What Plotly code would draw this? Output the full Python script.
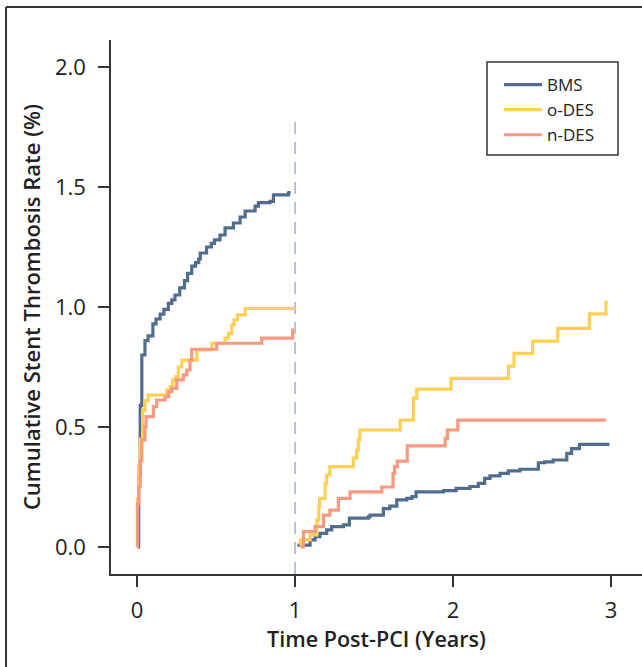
import plotly.graph_objects as go

# ---- data (step functions: value starts at time t) ----
bms_y1_t = [0, 0.01, 0.02, 0.03, 0.05, 0.07, 0.10, 0.12, 0.146, 0.17, 0.198, 0.22, 0.24, 0.27, 0.30, 0.32,
            0.346, 0.37, 0.39, 0.40, 0.44, 0.47, 0.49, 0.525, 0.557, 0.61, 0.652, 0.684, 0.747, 0.768,
            0.842, 0.863, 0.958, 0.962]
bms_y1_v = [0, 0.30, 0.59, 0.80, 0.86, 0.88, 0.93, 0.95, 0.97, 0.99, 1.015, 1.03, 1.05, 1.08, 1.11, 1.14,
            1.17, 1.185, 1.20, 1.225, 1.25, 1.265, 1.28, 1.30, 1.33, 1.35, 1.375, 1.40, 1.42, 1.435,
            1.44, 1.467, 1.474, 1.483]

odes_y1_t = [0, 0.002, 0.010, 0.020, 0.035, 0.05, 0.07, 0.188, 0.21, 0.225, 0.245, 0.261, 0.283, 0.378,
             0.473, 0.557, 0.578, 0.599, 0.614, 0.635, 0.684, 1.0]
odes_y1_v = [0, 0.20, 0.34, 0.45, 0.57, 0.61, 0.633, 0.654, 0.668, 0.696, 0.71, 0.75, 0.779, 0.821,
             0.849, 0.87, 0.89, 0.925, 0.946, 0.967, 0.994, 0.994]

ndes_y1_t = [0, 0.003, 0.01, 0.02, 0.03, 0.05, 0.057, 0.103, 0.124, 0.177, 0.20, 0.22, 0.251, 0.293,
             0.314, 0.335, 0.346, 0.504, 0.789, 0.985]
ndes_y1_v = [0, 0.18, 0.25, 0.36, 0.446, 0.50, 0.543, 0.585, 0.6125, 0.626, 0.647, 0.661, 0.696, 0.717,
             0.7375, 0.779, 0.824, 0.849, 0.87, 0.91]

bms_y2_t = [1.015, 1.095, 1.127, 1.158, 1.20, 1.232, 1.306, 1.344, 1.464, 1.475, 1.559, 1.60, 1.644,
            1.707, 1.74, 1.766, 1.94, 2.02, 2.107, 2.16, 2.20, 2.234, 2.297, 2.35, 2.424, 2.54, 2.58,
            2.634, 2.72, 2.75, 2.80, 2.99]
bms_y2_v = [0.008, 0.03, 0.043, 0.057, 0.071, 0.085, 0.092, 0.12, 0.126, 0.133, 0.16, 0.17, 0.196,
            0.203, 0.21, 0.23, 0.235, 0.244, 0.252, 0.265, 0.286, 0.296, 0.307, 0.317, 0.324, 0.351, 0.355,
            0.3625, 0.39, 0.41, 0.428, 0.428]

odes_y2_t = [1.03, 1.035, 1.095, 1.137, 1.15, 1.155, 1.19, 1.20, 1.22, 1.369, 1.39, 1.40, 1.41, 1.665,
             1.749, 1.77, 1.987, 2.35, 2.386, 2.504, 2.663, 2.863, 2.968]
odes_y2_v = [0.008, 0.03, 0.05, 0.1125, 0.168, 0.203, 0.265, 0.30, 0.335, 0.37, 0.404, 0.446, 0.4875, 0.529,
             0.62, 0.658, 0.703, 0.754, 0.807, 0.858, 0.911, 0.971, 1.026]

ndes_y2_t = [1.036, 1.053, 1.127, 1.18, 1.22, 1.274, 1.348, 1.549, 1.62, 1.63, 1.647, 1.71, 1.95, 1.964,
             2.03, 2.968]
ndes_y2_v = [0.0, 0.064, 0.085, 0.133, 0.154, 0.203, 0.23, 0.25, 0.307, 0.335, 0.358, 0.421, 0.453, 0.4875,
             0.529, 0.529]

series = [
    ("BMS", "#516d8e", bms_y1_t, bms_y1_v, bms_y2_t, bms_y2_v),
    ("o-DES", "#ffd055", odes_y1_t, odes_y1_v, odes_y2_t, odes_y2_v),
    ("n-DES", "#f89a82", ndes_y1_t, ndes_y1_v, ndes_y2_t, ndes_y2_v),
]

x_ticks = [0, 1, 2, 3]
y_ticks = [0.0, 0.5, 1.0, 1.5, 2.0]

FONT = "Open Sans"
TXT = "#222222"
fig = go.Figure()
for name, color, t1, v1, t2, v2 in series:
    fig.add_trace(go.Scatter(
        x=list(t1) + [None] + list(t2),
        y=list(v1) + [None] + list(v2),
        mode="lines", name=name, line=dict(color=color, width=3.2, shape="hv"),
        connectgaps=False,
    ))

fig.add_shape(type="line", xref="x", yref="paper", x0=1, x1=1, y0=0, y1=0.86,
              line=dict(color="#a3b8d8", width=1.6, dash="12px,8px"), layer="below")

# outer frame
fig.add_shape(type="line", xref="paper", yref="paper", x0=-0.1977, x1=-0.1977, y0=-0.3, y1=1.0618,
              line=dict(color="#333333", width=2))
fig.add_shape(type="line", xref="paper", yref="paper", x0=-0.1977, x1=1.1, y0=1.0618, y1=1.0618,
              line=dict(color="#333333", width=2))
# legend frame
fig.add_shape(type="rect", xref="paper", yref="paper", x0=(487 - 111) / 531, x1=(618 - 111) / 531,
              y0=(574 - 155) / 534, y1=(574 - 62) / 534,
              line=dict(color="#333333", width=1.5), fillcolor="rgba(0,0,0,0)")

fig.update_layout(
    width=642, height=667,
    margin=dict(l=111, r=0, t=40, b=93),
    paper_bgcolor="white", plot_bgcolor="white",
    font=dict(family=FONT, color=TXT, size=18),
    showlegend=True,
    legend=dict(x=(499 - 111) / 531, y=(574 - 67) / 534, xanchor="left", yanchor="top",
                borderwidth=0, bgcolor="rgba(0,0,0,0)",
                font=dict(size=17, family=FONT, color=TXT),
                itemwidth=38),
    xaxis=dict(range=[-0.165, 3.196], tickmode="array", tickvals=x_ticks,
               ticktext=[str(v) for v in x_ticks],
               showgrid=False, zeroline=False, showline=True, linecolor="#333333", linewidth=1.5,
               ticks="outside", ticklen=11, tickwidth=1.5, tickcolor="#333333",
               ticklabelstandoff=5,
               tickfont=dict(size=22, family=FONT, color=TXT),
               title=dict(text="Time Post-PCI (Years)",
                          font=dict(size=21.5, family=FONT, color=TXT, weight=600),
                          standoff=0)),
    yaxis=dict(range=[-0.1125, 2.1125], tickmode="array", tickvals=y_ticks,
               ticktext=[f"{v:.1f}" for v in y_ticks],
               showgrid=False, zeroline=False, showline=True, linecolor="#333333", linewidth=1.5,
               ticks="outside", ticklen=11, tickwidth=1.5, tickcolor="#333333",
               ticklabelstandoff=8,
               tickfont=dict(size=22, family=FONT, color=TXT),
               title=dict(text="Cumulative Stent Thrombosis Rate (%)",
                          font=dict(size=22, family=FONT, color=TXT, weight=600),
                          standoff=8)),
)

fig.write_html("out.html")
